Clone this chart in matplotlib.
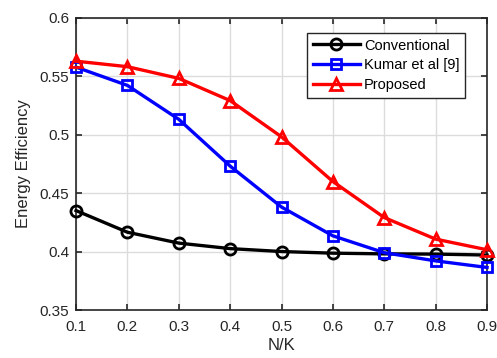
import matplotlib.pyplot as plt
import numpy as np

# Daten
nk = [0.1, 0.2, 0.3, 0.4, 0.5, 0.6, 0.7, 0.8, 0.9]
conventional = [0.435, 0.4165, 0.4072, 0.4025, 0.400, 0.3986, 0.398, 0.3978, 0.397]
kumar = [0.5576, 0.542, 0.513, 0.473, 0.438, 0.4134, 0.399, 0.392, 0.3864]
proposed = [0.5627, 0.558, 0.548, 0.529, 0.498, 0.4598, 0.429, 0.4106, 0.4015]

plt.rcParams['font.family'] = ['Liberation Sans', 'DejaVu Sans']

fig = plt.figure(figsize=(4.97, 3.58), dpi=100)
ax = fig.add_axes([0.153, 0.134, 0.827, 0.817])

ax.plot(nk, conventional, color='black', lw=2.4, marker='o', ms=8, mfc='none', mew=2, label='Conventional', clip_on=False, zorder=3)
ax.plot(nk, kumar, color='blue', lw=2.4, marker='s', ms=7, mfc='none', mew=2, label='Kumar et al [9]', clip_on=False, zorder=3)
ax.plot(nk, proposed, color='red', lw=2.4, marker='^', ms=9, mfc='none', mew=2, label='Proposed', clip_on=False, zorder=3)

ax.set_xlim(0.1, 0.9)
ax.set_ylim(0.35, 0.6)
ax.set_xticks(np.arange(0.1, 0.91, 0.1))
ax.set_xticklabels(['0.1', '0.2', '0.3', '0.4', '0.5', '0.6', '0.7', '0.8', '0.9'])
ax.set_yticks([0.35, 0.4, 0.45, 0.5, 0.55, 0.6])
ax.set_yticklabels(['0.35', '0.4', '0.45', '0.5', '0.55', '0.6'])
ax.grid(True, color='#dcdcdc', lw=1)
ax.set_axisbelow(True)
ax.tick_params(direction='in', top=True, right=True, labelsize=11, colors='#262626', length=4, width=1.2)
ax.tick_params(axis='x', pad=7)
ax.tick_params(axis='y', pad=5)
for s in ax.spines.values():
    s.set_color('#262626')
    s.set_linewidth(1.2)

ax.set_xlabel('N/K', fontsize=12, color='#262626', labelpad=3)
ax.set_ylabel('Energy Efficiency', fontsize=12, color='#262626', labelpad=6)

leg = ax.legend(loc='upper right', bbox_to_anchor=(0.947, 0.948), fontsize=10.5, handlelength=3.2,
                fancybox=False, framealpha=1, edgecolor='#262626', borderpad=0.4, labelspacing=0.4,
                handletextpad=0.3, borderaxespad=0)
leg.get_frame().set_linewidth(1)

plt.savefig('out.png', dpi=100)
